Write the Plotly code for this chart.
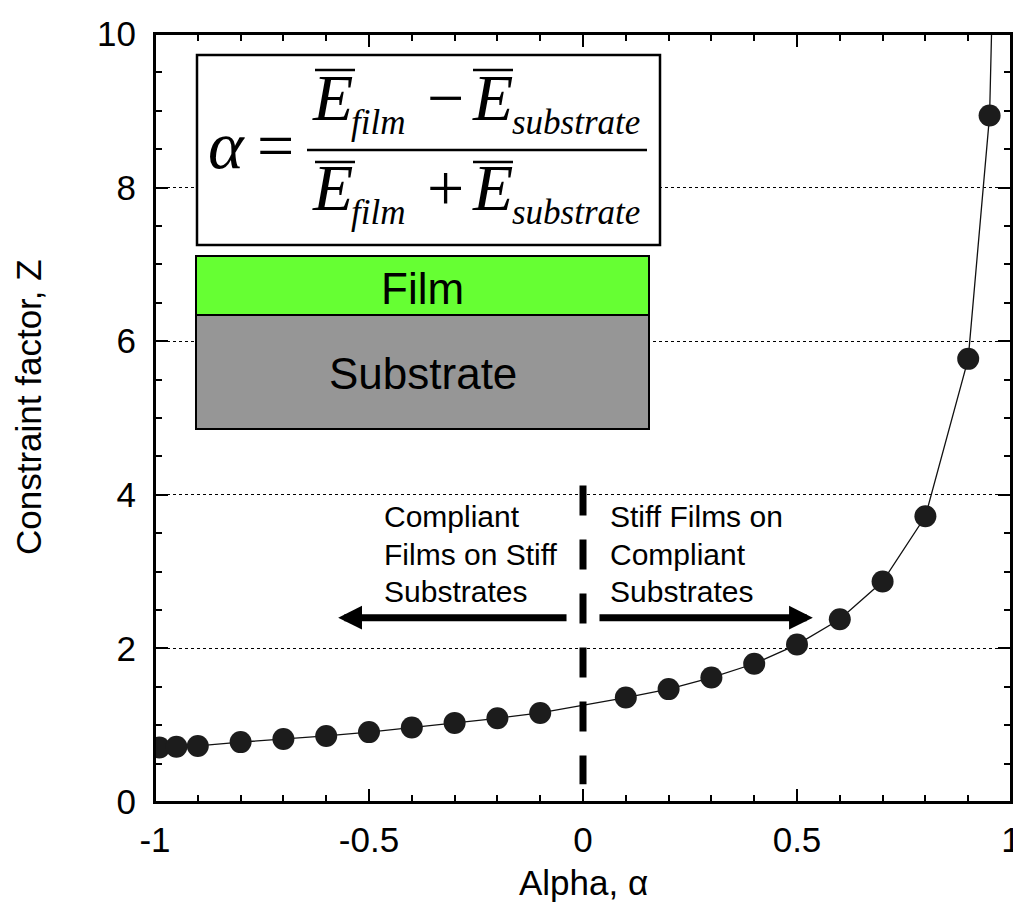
import plotly.graph_objects as go

# ---------------- data ----------------
alpha = [-0.99, -0.95, -0.9, -0.8, -0.7, -0.6, -0.5, -0.4, -0.3, -0.2, -0.1,
         0.1, 0.2, 0.3, 0.4, 0.5, 0.6, 0.7, 0.8, 0.9, 0.95]
z_factor = [0.71, 0.72, 0.73, 0.78, 0.82, 0.86, 0.91, 0.97, 1.03, 1.09, 1.16,
            1.36, 1.47, 1.62, 1.80, 2.05, 2.38, 2.87, 3.72, 5.77, 8.94]
# model curve continues above the top of the axis after the last point
curve_alpha = alpha + [0.96]
curve_z = z_factor + [11.3]

x_tickvals = [-1, -0.5, 0, 0.5, 1]
x_ticktext = ["-1", "-0.5", "0", "0.5", "1"]
y_tickvals = [0, 2, 4, 6, 8, 10]
y_ticktext = ["0", "2", "4", "6", "8", "10"]

left_label = ["Compliant", "Films on Stiff", "Substrates"]
right_label = ["Stiff Films on", "Compliant", "Substrates"]

# ---------------- figure geometry (page has an 8px body margin) ----------------
OFF = 8
W, H = 1021, 913
L, R, T, B = 155, 1011, 34, 802   # plot-area edges in screenshot pixels

def px(p):
    return (p - L) / (R - L)

def py(p):
    return (B - p) / (B - T)

SANS = "Liberation Sans, Arial, sans-serif"
SERIF = "Liberation Serif, Times New Roman, serif"

fig = go.Figure()
fig.add_trace(go.Scatter(x=curve_alpha, y=curve_z, mode="lines",
                         line=dict(color="#111111", width=1.3),
                         showlegend=False, hoverinfo="skip"))
fig.add_trace(go.Scatter(x=alpha, y=z_factor, mode="markers",
                         marker=dict(size=22, color="#1c1c1c",
                                     line=dict(width=0)),
                         showlegend=False))

shapes = []
annotations = []

def text(t, x, baseline, size, family, xanchor="left", k=None, angle=0):
    if k is None:
        k = 0.3375 if family == SERIF else 0.3465
    cy = baseline - k * size
    annotations.append(dict(text=t, x=px(x), y=py(cy), xref="paper", yref="paper",
                            xanchor=xanchor, yanchor="middle", showarrow=False,
                            font=dict(family=family, size=size, color="black"),
                            textangle=angle, borderpad=0))

# plot frame
shapes.append(dict(type="rect", xref="paper", yref="paper", x0=0, x1=1, y0=0, y1=1,
                   line=dict(color="black", width=2), fillcolor="rgba(0,0,0,0)",
                   layer="above"))
# formula box
shapes.append(dict(type="rect", xref="paper", yref="paper",
                   x0=px(197), x1=px(660), y0=py(55), y1=py(245),
                   line=dict(color="black", width=2.5), fillcolor="white", layer="above"))
# film / substrate
shapes.append(dict(type="rect", xref="paper", yref="paper",
                   x0=px(196), x1=px(649), y0=py(256), y1=py(315),
                   line=dict(color="black", width=2), fillcolor="#66FF33", layer="above"))
shapes.append(dict(type="rect", xref="paper", yref="paper",
                   x0=px(196), x1=px(649), y0=py(315), y1=py(429),
                   line=dict(color="black", width=2), fillcolor="#969696", layer="above"))
text("Film", 422.5, 304, 44, SANS, xanchor="center")
text("Substrate", 422.5, 389, 44, SANS, xanchor="center")

# formula
text("<i>α</i>", 226, 168, 68, SERIF, xanchor="center")
text("=", 275, 168, 66, SERIF, xanchor="center")
for base, sub_base, op in [(120, 134, "−"), (210, 224, "+")]:
    text("<i>E</i>", 311, base, 66, SERIF)
    text("<i>film</i>", 350, sub_base, 35, SERIF)
    text(op, 445, base, 66, SERIF, xanchor="center")
    text("<i>E</i>", 471, base, 66, SERIF)
    text("<i>substrate</i>", 511, sub_base, 35, SERIF)
for ybar in (70, 162):
    for xa, xb in ((315, 355), (473, 513)):
        shapes.append(dict(type="line", xref="paper", yref="paper",
                           x0=px(xa), x1=px(xb), y0=py(ybar), y1=py(ybar),
                           line=dict(color="black", width=2.5), layer="above"))
shapes.append(dict(type="line", xref="paper", yref="paper",
                   x0=px(307), x1=px(647), y0=py(150), y1=py(150),
                   line=dict(color="black", width=2.5), layer="above"))

# vertical dashed divider at alpha = 0
shapes.append(dict(type="line", xref="x", yref="y", x0=0, x1=0, y0=4.12, y1=0.23,
                   line=dict(color="black", width=7, dash="30px,24px"), layer="above"))

# arrows
for tip, tail in ((-0.572, -0.035), (0.537, 0.035)):
    annotations.append(dict(x=tip, y=2.40, ax=tail, ay=2.40, xref="x", yref="y",
                            axref="x", ayref="y", text="", showarrow=True,
                            arrowhead=2, arrowsize=0.68, arrowwidth=7,
                            arrowcolor="black", standoff=0, startstandoff=0))

# region labels
for lines_, xl in ((left_label, 383), (right_label, 609)):
    for i, s in enumerate(lines_):
        text(s, xl, 527 + 37.5 * i, 30, SANS)

# axis titles
text("Alpha, α", 583, 895, 35, SANS, xanchor="center")
annotations.append(dict(text="Constraint factor, Z", x=px(28), y=py(407),
                        xref="paper", yref="paper", xanchor="center", yanchor="middle",
                        showarrow=False, textangle=-90,
                        font=dict(family=SANS, size=35, color="black")))

axis_common = dict(showline=True, linecolor="black", linewidth=2, mirror="ticks",
                   ticks="inside", ticklen=13, tickwidth=1.5, tickcolor="black",
                   tickfont=dict(family=SANS, size=35, color="black"), zeroline=False,
                   automargin=False, ticklabeloverflow="allow")

fig.update_layout(
    width=W, height=H,
    margin=dict(l=L - OFF, r=W - (R - OFF), t=T - OFF, b=H - (B - OFF), autoexpand=False),
    paper_bgcolor="white", plot_bgcolor="white",
    font=dict(family=SANS, color="black"),
    xaxis=dict(range=[-1, 1], tickvals=x_tickvals, ticktext=x_ticktext,
               showgrid=False, ticklabelstandoff=6,
               minor=dict(dtick=0.1, tick0=0, ticks="inside", ticklen=7,
                          tickwidth=1.5, tickcolor="black", showgrid=False),
               **axis_common),
    yaxis=dict(range=[0, 10], tickvals=y_tickvals, ticktext=y_ticktext,
               showgrid=True, gridcolor="black", gridwidth=1, griddash="3px,3px",
               ticklabelstandoff=10,
               minor=dict(dtick=0.5, tick0=0, ticks="inside", ticklen=7,
                          tickwidth=1.5, tickcolor="black", showgrid=False),
               **axis_common),
    shapes=shapes, annotations=annotations,
)

fig.write_html("out.html")
